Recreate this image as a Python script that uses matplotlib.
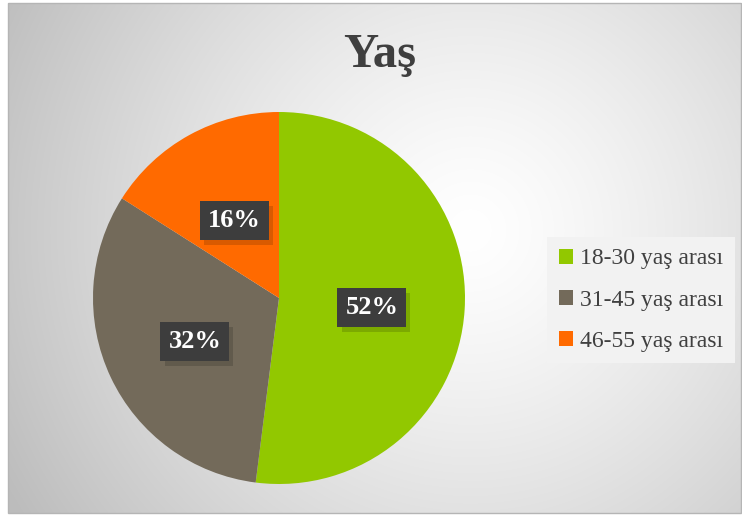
import matplotlib.pyplot as plt
import numpy as np
from matplotlib.patches import Patch, Rectangle
import matplotlib.patheffects as pe

kategoriler = ['18-30 yaş arası', '31-45 yaş arası', '46-55 yaş arası']
oranlar = [52, 32, 16]
renkler = ['#92c800', '#736a5a', '#ff6a00']

W, H = 742, 516
fig = plt.figure(figsize=(W / 100, H / 100), dpi=100)
plt.rcParams['font.family'] = ['Liberation Serif', 'DejaVu Serif']

# arka plan: açık gri radyal geçiş
bg = fig.add_axes([0, 0, 1, 1])
yy, xx = np.mgrid[0:H, 0:W]
d = np.sqrt((xx - 470) ** 2 + (yy - 230) ** 2) / 530
g = 1 - 0.26 * np.clip(d, 0, 1) ** 1.3
img = np.dstack([g, g, g])
img[:, :8] = 1
img[:3, :] = 1
img[513:, :] = 1
bg.imshow(img, extent=(0, W, H, 0), aspect='auto')
bg.add_patch(Rectangle((8, 3), W - 9, 510, fill=False, edgecolor='#b5b5b5', linewidth=1))
bg.set_xlim(0, W)
bg.set_ylim(H, 0)
bg.axis('off')

# pasta
cx, cy, r = 279, 298, 186
ax = fig.add_axes([(cx - r) / W, (H - cy - r) / H, 2 * r / W, 2 * r / H])
wedges, texts, autotexts = ax.pie(oranlar, colors=renkler, startangle=90, counterclock=False,
                                  autopct='%d%%', pctdistance=0.5, radius=1)
for t in autotexts:
    x, y = t.get_position()
    t.set_position((x, y - 4 / r))
    t.set_color('white')
    t.set_fontsize(19)
    t.set_fontweight('bold')
    t.set_bbox(dict(boxstyle='square,pad=0.3', facecolor='#3d3d3d', edgecolor='none'))
    t.get_bbox_patch().set_path_effects([
        pe.SimplePatchShadow(offset=(3, -3.5), shadow_rgbFace='black', alpha=0.15), pe.Normal()])
ax.set_xlim(-1, 1)
ax.set_ylim(-1, 1)
ax.axis('off')

fig.text(380 / W, 1 - 55 / H, 'Yaş', ha='center', va='center', fontsize=35,
         fontweight='bold', color='#3f3f3f')

handles = [Patch(facecolor=c, edgecolor='none') for c in renkler]
leg = fig.legend(handles, kategoriler, loc='center', bbox_to_anchor=(641 / W, 1 - 300 / H),
                 frameon=True, fancybox=False, prop={'size': 17}, labelspacing=0.85,
                 handlelength=0.6, handleheight=0.6, handletextpad=0.3, borderpad=0.5)
leg.get_frame().set_facecolor('#f2f2f2')
leg.get_frame().set_edgecolor('none')
leg.get_frame().set_alpha(1)
for t in leg.get_texts():
    t.set_color('#404040')

fig.savefig('out.png', dpi=100)
